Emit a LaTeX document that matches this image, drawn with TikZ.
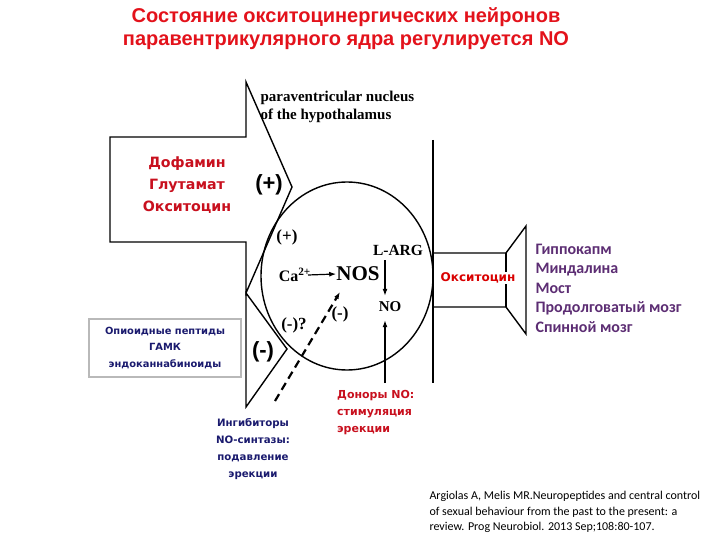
\documentclass[tikz,border=0pt]{standalone}
\usepackage{fontspec}
\setmainfont{Liberation Serif}
\setsansfont{DejaVu Sans}
\newfontfamily\arialfont{Liberation Sans}
\newfontfamily\calfont{Carlito}
\usepackage{xcolor}
\usetikzlibrary{positioning,arrows.meta}
\definecolor{ttlred}{HTML}{E3121B}
\definecolor{lblred}{HTML}{C8101E}
\definecolor{navy}{HTML}{1A1A6E}
\definecolor{plum}{HTML}{5C2D73}

\begin{document}
\begin{tikzpicture}[x=1pt,y=-1pt,
  shp/.style={draw,line width=1.4pt,line join=miter},
  arr/.style={-{Latex[length=7pt,width=5pt]},line width=1.2pt},
  sgn/.style={font=\bfseries\fontsize{17}{18}\selectfont,inner sep=0pt},
  bigsgn/.style={font=\arialfont\bfseries\fontsize{22}{24}\selectfont,inner sep=0pt},
  ru/.style={font=\sffamily\bfseries\fontsize{11}{17}\selectfont,align=center,inner sep=1pt}]
\useasboundingbox (0,0) rectangle (720,540);

% title
\node[font=\arialfont\bfseries\fontsize{20}{23}\selectfont,text=ttlred,align=center] (ttl) at (346,29)
  {Состояние окситоцинергических нейронов\\паравентрикулярного ядра регулируется NO};

% afferent arrows
\draw[shp] (110,137) -- (246,137) -- (246,82) -- (292,187) -- (246,293) -- (246,242) -- (110,242) -- cycle;
\draw[shp] (246,293) -- (287,349) -- (246,407) -- cycle;

% neuron
\draw[shp] (347,276) ellipse [x radius=86pt, y radius=94pt];
\draw[line width=2.5pt] (433,140) -- (433,383);
\draw[shp] (433,253) -- (506,253) -- (526,226) -- (526,334) -- (506,307) -- (433,307);
\draw[shp] (506,253) -- (506,307);

\node[font=\bfseries\fontsize{15}{18.5}\selectfont,align=left,anchor=west] (pvn) at (257,107)
  {paraventricular nucleus\\of the hypothalamus};

\node[ru,font=\sffamily\bfseries\fontsize{14.2}{22}\selectfont,text=lblred] (exc) at (187,185)
  {Дофамин\\Глутамат\\Окситоцин};
\node[ru,draw=gray!55,line width=2.5pt,fill=white,text=navy,minimum width=152pt,minimum height=58pt,
  font=\sffamily\bfseries\fontsize{9.9}{16.5}\selectfont] (opi) at (165,348)
  {Опиоидные пептиды\\ГАМК\\эндоканнабиноиды};

\node[bigsgn] (p1) at (269,185) {(+)};
\node[sgn] (p2) at (287,237) {(+)};
\node[bigsgn] (m1) at (263,352) {(-)};
\node[sgn] (m2) at (294,325) {(-)?};
\node[sgn] (m3) at (340,314) {(-)};

\node[font=\bfseries\fontsize{21}{22}\selectfont,inner sep=0pt] (nos) at (358,274) {NOS};
\node[font=\bfseries\fontsize{16}{17}\selectfont,inner sep=0pt,anchor=east] (ca) at (311,275) {Ca\textsuperscript{2+}};
\node[font=\bfseries\fontsize{15.5}{16}\selectfont,inner sep=0pt] (larg) at (398,250) {L-ARG};
\node[font=\bfseries\fontsize{15}{16}\selectfont,inner sep=0pt] (no) at (390,307) {NO};

\coordinate (don) at (385,383);
\coordinate (inhtip) at (275,401);
\coordinate (nosin) at (340,292);

\draw[arr] ([xshift=-3pt]ca.east) -- (nos.west);
\draw[arr] ([xshift=-13pt,yshift=-5pt]larg.south) -- ([xshift=-5pt,yshift=6pt]no.north);
\draw[arr] (don) -- ([xshift=-5pt,yshift=-8pt]no.south);
\draw[arr,line width=2.2pt,dash pattern=on 8pt off 5pt] (inhtip) -- (nosin);

\node[ru,font=\sffamily\bfseries\fontsize{10.2}{17}\selectfont,text=navy] (inh) at (253,449) {Ингибиторы\\NO-синтазы:\\подавление\\эрекции};
\node[ru,text=lblred,align=left,anchor=west] (dnr) at (336,413) {Доноры NO:\\стимуляция\\эрекции};

\node[ru,font=\sffamily\bfseries\fontsize{12}{14}\selectfont,text=red!85!black,fill=white,inner sep=1pt] (oxr) at (478,278) {Окситоцин};
\node[font=\calfont\bfseries\fontsize{16}{19.5}\selectfont,text=plum,align=left,anchor=west] (tgt) at (532,288)
  {Гиппокапм\\Миндалина\\Мост\\Продолговатый мозг\\Спинной мозг};

\node[font=\calfont\fontsize{12}{15.5}\selectfont,align=left,anchor=west] (cite) at (426,512)
  {Argiolas A, Melis MR.Neuropeptides and central control\\of sexual behaviour from the past to the present: a\\review. Prog Neurobiol. 2013 Sep;108:80-107.};
\end{tikzpicture}
\end{document}
